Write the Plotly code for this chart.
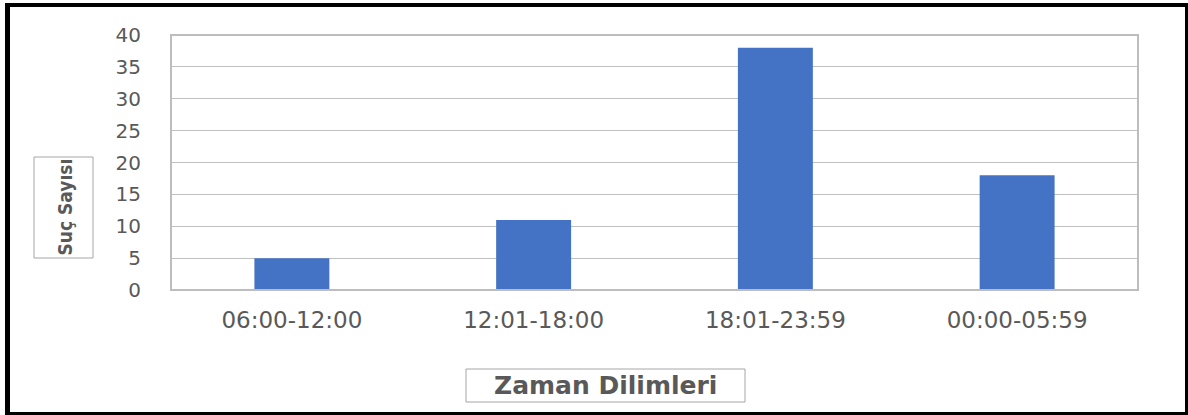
import plotly.graph_objects as go

categories = ["06:00-12:00", "12:01-18:00", "18:01-23:59", "00:00-05:59"]
values = [5, 11, 38, 18]
y_ticks = [0, 5, 10, 15, 20, 25, 30, 35, 40]
x_title = "Zaman Dilimleri"
y_title = "Suç Sayısı"

W, H = 1188, 415
L, R, T, B = 171, 50, 35, 125
pw, ph = W - L - R, H - T - B

def px(x):
    return (x - L) / pw

def py(y):
    return (H - B - y) / ph

fig = go.Figure(go.Bar(x=categories, y=values, marker_color="#4472C4", marker_line_width=0, width=0.31))

fig.update_layout(
    width=W, height=H,
    margin=dict(l=L, r=R, t=T, b=B),
    paper_bgcolor="white", plot_bgcolor="white",
    showlegend=False,
    font=dict(family="DejaVu Sans, Verdana", color="#595959"),
)
fig.update_xaxes(
    showgrid=False, showline=False, zeroline=False,
    tickfont=dict(size=23, color="#595959"),
    ticks="outside", ticklen=9, tickcolor="rgba(0,0,0,0)",
)
fig.update_yaxes(
    range=[0, 40], tickvals=y_ticks, showgrid=True, gridcolor="#c0c0c0", gridwidth=1,
    zeroline=False, showline=False,
    tickfont=dict(size=20, color="#595959"),
    ticks="outside", ticklen=25, tickcolor="rgba(0,0,0,0)",
)

def box(x0, y0, x1, y1, **kw):
    return dict(type="rect", xref="paper", yref="paper",
                x0=px(x0), x1=px(x1), y0=py(y1), y1=py(y0), **kw)

shapes = [
    # plot area border
    dict(type="rect", xref="paper", yref="paper", x0=0, x1=1, y0=0, y1=1,
         line=dict(color="#bdbdbd", width=2)),
    # outer frame (four bars)
    box(5, 3, 1188, 7, fillcolor="black", line=dict(width=0)),
    box(5, 3, 10, 415, fillcolor="black", line=dict(width=0)),
    box(1185, 3, 1188, 415, fillcolor="black", line=dict(width=0)),
    box(5, 412, 1188, 415, fillcolor="black", line=dict(width=0)),
    # axis title boxes
    box(34, 157, 93, 258, fillcolor="rgba(0,0,0,0)", line=dict(color="#a6a6a6", width=1)),
    box(466, 369, 745, 402, fillcolor="rgba(0,0,0,0)", line=dict(color="#a6a6a6", width=1)),
]
fig.update_layout(shapes=shapes)

fig.add_annotation(
    x=px(64), y=py(207.5), xref="paper", yref="paper", text="<b>" + y_title + "</b>",
    textangle=-90, showarrow=False, xanchor="center", yanchor="middle",
    font=dict(family="DejaVu Sans Condensed, Liberation Sans Narrow, Arial Narrow", size=19, color="#595959"),
)
fig.add_annotation(
    x=px(605.5), y=py(385.5), xref="paper", yref="paper", text="<b>" + x_title + "</b>",
    showarrow=False, xanchor="center", yanchor="middle",
    font=dict(family="DejaVu Sans, Verdana", size=25, color="#595959"),
)

fig.write_html("out.html", config={"displayModeBar": False},
               post_script="document.body.style.margin='0';")
